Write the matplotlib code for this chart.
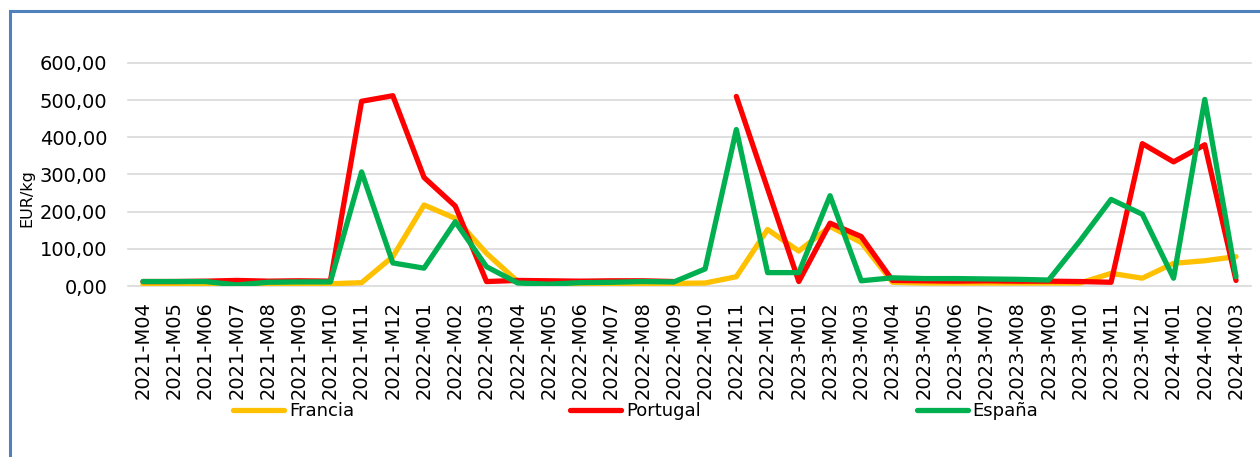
import numpy as np
import matplotlib
matplotlib.use("Agg")
import matplotlib.pyplot as plt
from matplotlib.patches import Rectangle
from matplotlib.ticker import FuncFormatter

# Datos (EUR/kg) por mes
meses = ["2021-M04", "2021-M05", "2021-M06", "2021-M07", "2021-M08", "2021-M09",
         "2021-M10", "2021-M11", "2021-M12", "2022-M01", "2022-M02", "2022-M03",
         "2022-M04", "2022-M05", "2022-M06", "2022-M07", "2022-M08", "2022-M09",
         "2022-M10", "2022-M11", "2022-M12", "2023-M01", "2023-M02", "2023-M03",
         "2023-M04", "2023-M05", "2023-M06", "2023-M07", "2023-M08", "2023-M09",
         "2023-M10", "2023-M11", "2023-M12", "2024-M01", "2024-M02", "2024-M03"]

francia = [5, 5, 5, 5, 5, 6, 6, 9, 79, 218, 182, 88,
           12, 7, 7, 7, 7, 7, 8, 25, 152, 94, 160, 117,
           10, 8, 8, 8, 8, 8, 8, 34, 21, 61, 68, 79]

portugal = [12, 12, 13, 15, 13, 14, 13, 497, 512, 292, 215, 12,
            15, 14, 13, 14, 14, 12, np.nan, 510, 262, 12, 169, 133,
            15, 14, 13, 14, 13, 13, 12, 10, 383, 334, 380, 15]

espana = [12, 12, 12, 3, 10, 11, 11, 307, 62, 48, 173, 52,
          8, 5, 9, 10, 12, 11, 46, 421, 36, 36, 243, 14,
          22, 20, 20, 19, 18, 16, 121, 233, 193, 21, 502, 25]

yticks = [0, 100, 200, 300, 400, 500, 600]

x = np.arange(len(meses))

fig = plt.figure(figsize=(12.6, 4.57), dpi=100)
ax = fig.add_axes([128 / 1260, 1 - 286 / 457, 1123 / 1260, 223 / 457])

estilo = dict(lw=3.8, solid_capstyle="round", solid_joinstyle="round")
ax.plot(x, francia, color="#FFC000", label="Francia", **estilo)
ax.plot(x, portugal, color="#FF0000", label="Portugal", **estilo)
ax.plot(x, espana, color="#00B050", label="España", **estilo)

ax.set_xlim(-0.48, len(meses) - 1 + 0.48)
ax.set_ylim(0, 600)
ax.set_yticks(yticks)
ax.yaxis.set_major_formatter(FuncFormatter(lambda v, p: f"{v:.2f}".replace(".", ",")))
ax.set_xticks(x)
ax.set_xticklabels(meses, rotation=90)
ax.tick_params(axis="y", length=0, pad=15, labelsize=14)
ax.tick_params(axis="x", length=0, pad=11, labelsize=14)
ax.grid(axis="y", color="#D9D9D9", lw=1.2)
ax.set_axisbelow(True)
for g in ax.get_ygridlines():
    g.set_clip_on(False)
for s in ax.spines.values():
    s.set_visible(False)

fig.text(27 / 1260, 1 - 198 / 457, "EUR/kg", rotation=90, ha="center", va="center",
         fontsize=11.5)

fig.legend(loc="center left", bbox_to_anchor=(233 / 1260, 1 - 411 / 457), ncol=3,
           frameon=False, fontsize=13, handlelength=2.82, handletextpad=0.28,
           columnspacing=11.96, borderpad=0, borderaxespad=0)

# marco azul
fig.add_artist(Rectangle((9.5 / 1260, -0.1), 1.2, 1.1 - 10.5 / 457, transform=fig.transFigure,
                         fill=False, edgecolor="#4F81BD", lw=2.2))

fig.savefig("out.png", dpi=100)
